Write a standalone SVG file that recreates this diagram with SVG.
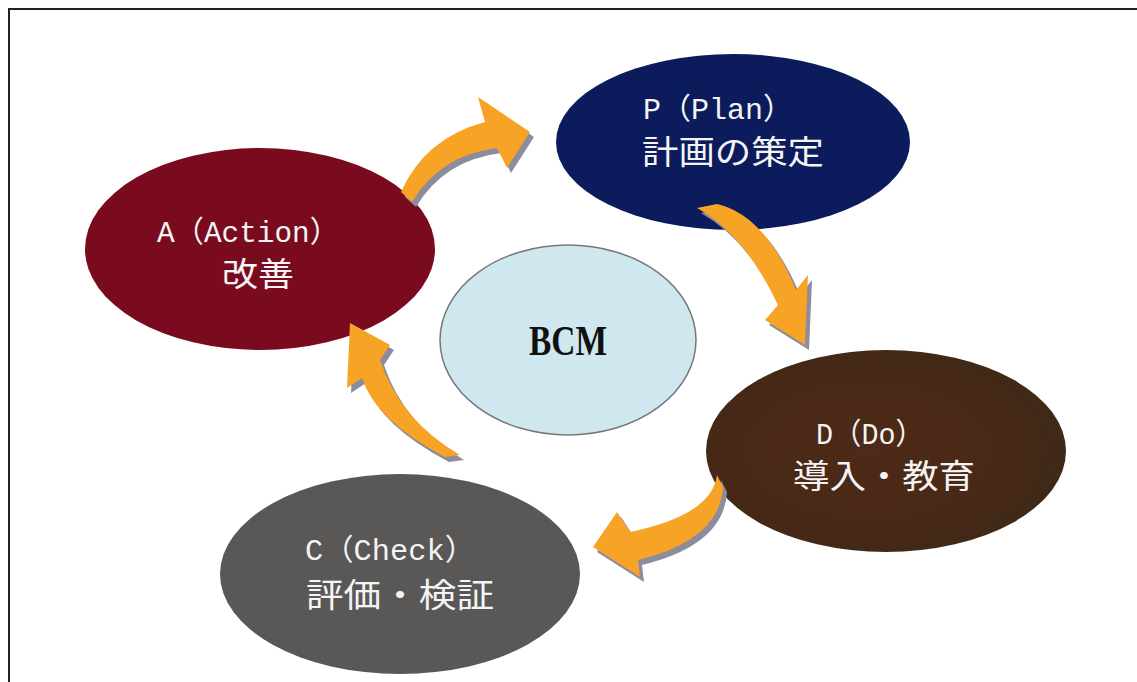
<svg xmlns="http://www.w3.org/2000/svg" width="1137" height="682" viewBox="0 0 1137 682">
<defs>
<style>
.lat{font-family:"Liberation Mono","Noto Sans CJK JP",monospace;font-size:30px;fill:#f4f4f4;text-anchor:middle}
.jp{font-family:"Noto Sans CJK JP",sans-serif;font-size:33px;fill:#f4f4f4;text-anchor:middle}
.bcm{font-family:"Liberation Serif",serif;font-weight:bold;font-size:42px;fill:#111;text-anchor:middle}
.arr{fill:#f7a325}
.sh{fill:#8c8c9c}
</style>
<radialGradient id="gd" cx="0.45" cy="0.5" r="0.6">
<stop offset="0" stop-color="#4e2a18"/>
<stop offset="0.7" stop-color="#472816"/>
<stop offset="1" stop-color="#3a2a18"/>
</radialGradient>
</defs>
<rect width="1137" height="682" fill="#fff"/>
<path d="M9,682 L9,9 L1137,9" fill="none" stroke="#222" stroke-width="2"/>
<g id="nodeP">
<ellipse cx="733" cy="142" rx="177" ry="88" fill="#0c1b5c"/>
<text class="lat" x="718" y="119" textLength="150" lengthAdjust="spacingAndGlyphs">P（Plan）</text>
<text class="jp" x="733" y="164" textLength="182" lengthAdjust="spacingAndGlyphs">計画の策定</text>
</g>
<g id="nodeA">
<ellipse cx="260" cy="249" rx="175" ry="101" fill="#7a0b1f"/>
<text class="lat" x="248" y="242" textLength="182" lengthAdjust="spacingAndGlyphs">A（Action）</text>
<text class="jp" x="258" y="286" textLength="72" lengthAdjust="spacingAndGlyphs">改善</text>
</g>
<g id="nodeBCM">
<ellipse cx="568" cy="340" rx="128" ry="95" fill="#cfe7ef" stroke="#777" stroke-width="1.5"/>
<text class="bcm" x="568" y="355" textLength="78" lengthAdjust="spacingAndGlyphs">BCM</text>
</g>
<g id="nodeD">
<ellipse cx="886" cy="451" rx="180" ry="101" fill="url(#gd)"/>
<text class="lat" x="870" y="444" textLength="108" lengthAdjust="spacingAndGlyphs">D（Do）</text>
<text class="jp" x="884" y="488" textLength="182" lengthAdjust="spacingAndGlyphs">導入・教育</text>
</g>
<g id="nodeC">
<ellipse cx="400" cy="574" rx="180" ry="100" fill="#5a5757"/>
<text class="lat" x="390" y="560" textLength="170" lengthAdjust="spacingAndGlyphs">C（Check）</text>
<text class="jp" x="400" y="607" textLength="188" lengthAdjust="spacingAndGlyphs">評価・検証</text>
</g>
<g id="connectors">
<g transform="translate(4,5)" class="sh">
<path d="M401,192 Q425,138 485,122 L478,97 L530,132 L507,168 L497,148 Q440,155 412,202 Z"/>
<path d="M697,208 Q745,235 778,305 L765,320 L805,345 L808,275 L796,290 Q765,215 717,204 Z"/>
<path d="M717,475 Q712,515 630,532 L617,512 L593,547 L640,577 L638,560 Q720,540 723,487 Z"/>
<path d="M350,323 L390,345 L380,360 Q400,420 460,455 L445,457 Q375,420 362,378 L347,388 Z"/>
</g>
<g class="arr">
<path d="M401,192 Q425,138 485,122 L478,97 L530,132 L507,168 L497,148 Q440,155 412,202 Z"/>
<path d="M697,208 Q745,235 778,305 L765,320 L805,345 L808,275 L796,290 Q765,215 717,204 Z"/>
<path d="M717,475 Q712,515 630,532 L617,512 L593,547 L640,577 L638,560 Q720,540 723,487 Z"/>
<path d="M350,323 L390,345 L380,360 Q400,420 460,455 L445,457 Q375,420 362,378 L347,388 Z"/>
</g>
</g>
</svg>
